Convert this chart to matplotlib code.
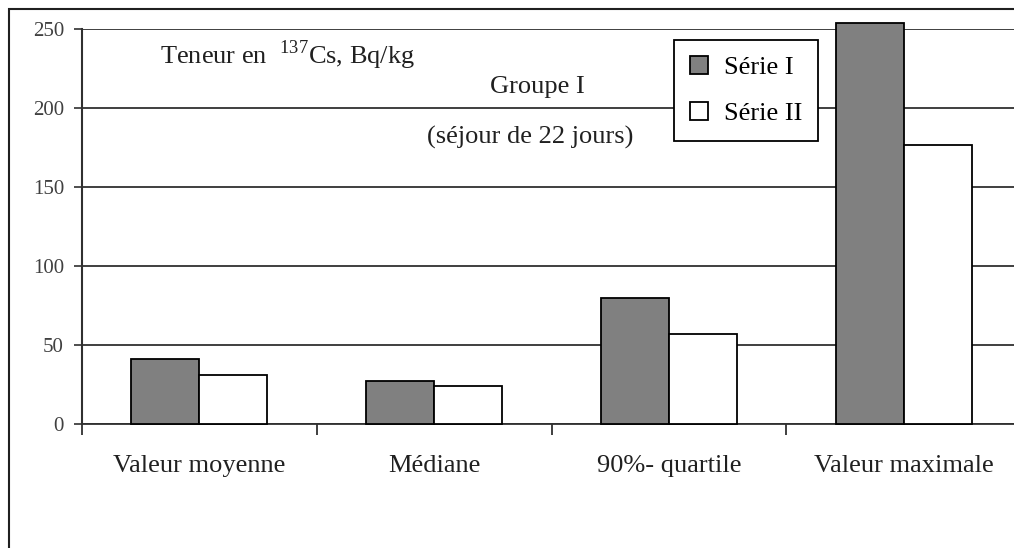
import matplotlib
matplotlib.use('Agg')
import numpy as np
from matplotlib import pyplot as plt
from matplotlib.patches import Rectangle

categories = ['Valeur moyenne', 'Médiane', '90%- quartile', 'Valeur maximale']
serie_1 = [41, 27.4, 79.5, 254]
serie_2 = [31, 24, 57, 176.5]
yticks = [0, 50, 100, 150, 200, 250]

plt.rcParams['font.family'] = ['Liberation Serif', 'DejaVu Serif']
plt.rcParams['mathtext.fontset'] = 'custom'
plt.rcParams['mathtext.rm'] = 'Liberation Serif'

W, H = 1014, 548
fig = plt.figure(figsize=(W / 100, H / 100), dpi=100)

def fx(px):
    return px / W

def fy(py):
    return 1 - py / H

ax = fig.add_axes([fx(82), fy(424), fx(1021) - fx(82), fy(29) - fy(424)])

x = np.arange(len(categories))
w = 0.29
ax.bar(x - w / 2, serie_1, w, color='#808080', edgecolor='black', linewidth=1.3,
       label='Série I', zorder=3, clip_on=False)
ax.bar(x + w / 2, serie_2, w, color='white', edgecolor='black', linewidth=1.3,
       label='Série II', zorder=3, clip_on=False)

ax.set_xlim(-0.5, len(categories) - 0.5)
ax.set_ylim(0, 250)
ax.set_yticks(yticks)
ax.yaxis.grid(True, color='#303030', linewidth=1.3)
ax.set_axisbelow(True)

ax.set_xticks(x)
ax.set_xticklabels(categories, fontsize=19)
ax.set_xticks(np.arange(-0.5, len(categories), 1.0), minor=True)
ax.tick_params(axis='x', which='major', length=0, pad=22, colors='#202020')
ax.tick_params(axis='x', which='minor', length=8, width=1.3, direction='out', color='#303030')
ax.tick_params(axis='y', length=6, width=1.3, pad=7, labelsize=15, colors='#404040')

for side in ['top', 'right']:
    ax.spines[side].set_visible(False)
ax.spines['left'].set_linewidth(1.5)
ax.spines['left'].set_color('#303030')
ax.spines['bottom'].set_linewidth(1.3)
ax.spines['bottom'].set_color('#303030')

fig.text(fx(160), fy(55), 'Teneur en  $^{\\mathrm{137}}$Cs, Bq/kg', fontsize=19,
         va='center', ha='left', color='#202020')
fig.text(fx(537), fy(87), 'Groupe I', fontsize=19, ha='center', va='center', color='#202020')
fig.text(fx(530), fy(137), '(séjour de 22 jours)', fontsize=19, ha='center', va='center',
         color='#202020')

leg = ax.legend(loc='upper left', bbox_to_anchor=(fx(674), fy(40)),
                bbox_transform=fig.transFigure, borderaxespad=0, fontsize=19,
                fancybox=False, framealpha=1, edgecolor='black', handlelength=0.7,
                handleheight=0.7, handletextpad=0.6, borderpad=0.6, labelspacing=0.85)
leg.get_frame().set_linewidth(1.3)
leg.set_zorder(5)

# cadre extérieur du graphique
fig.add_artist(Rectangle((fx(9), fy(560)), fx(1030) - fx(9), fy(9) - fy(560),
                         transform=fig.transFigure, fill=False, edgecolor='#202020',
                         linewidth=1.5, clip_on=False))

fig.savefig('out.png', dpi=100)
